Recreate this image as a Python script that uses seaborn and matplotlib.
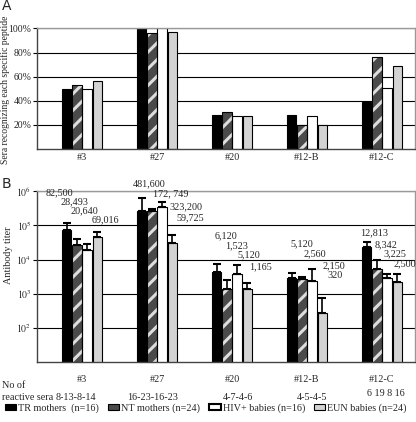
import numpy as np
import pandas as pd
import matplotlib
matplotlib.use("Agg")
import matplotlib.pyplot as plt
from matplotlib.patches import Patch, Rectangle
import seaborn as sns

# --- Data ---
peptides = ["#3", "#27", "#20", "#12-B", "#12-C"]
groups = ["TR mothers  (n=16)", "NT mothers (n=24)", "HIV+ babies (n=16)", "EUN babies (n=24)"]

# A: % of sera recognizing each peptide
pct_tr = [50, 100, 28, 28, 39]
pct_nt = [53, 96, 31, 20, 76]
pct_hiv = [50, 100, 27, 27, 51]
pct_eun = [56, 97, 27, 20, 69]

# B: antibody titer and top of error bar
titer_tr = [70800, 257000, 4360, 2950, 23000]
titer_nt = [27000, 265000, 1410, 2630, 5250]
titer_hiv = [19500, 355000, 3700, 2340, 2800]
titer_eun = [47000, 30000, 1380, 270, 2240]
errtop_tr = [120000, 617000, 7400, 4150, 32000]
errtop_nt = [41000, 295000, 2450, 3100, 9500]
errtop_hiv = [28000, 470000, 6900, 5350, 3900]
errtop_eun = [66000, 53000, 2000, 725, 3700]

titer_text = [
    ["82,500", "28,493", "20,640", "69,016"],
    ["481,600", "172, 749", "323,200", "59,725"],
    ["6,120", "1,523", "5,120", "1,165"],
    ["5,120", "2,560", "2,150", "320"],
    ["12,813", "8,342", "3,225", "2,500"],
]
reactive_sera = ["8-13-8-14", "16-23-16-23", "4-7-4-6", "4-5-4-5", "6 19 8 16"]

# label placement (offset from group centre, log10 height)
text_dx = [[-0.30, -0.10, 0.03, 0.31],
           [-0.10, 0.18, 0.38, 0.44],
           [-0.08, 0.06, 0.22, 0.38],
           [-0.07, 0.11, 0.36, 0.37],
           [-0.10, 0.05, 0.17, 0.30]]
text_logy = [[5.94, 5.70, 5.44, 5.17],
             [6.21, 5.91, 5.55, 5.23],
             [4.70, 4.41, 4.14, 3.79],
             [4.46, 4.16, 3.81, 3.54],
             [4.77, 4.43, 4.16, 3.89]]
sera_dx = [-0.08, -0.06, 0.08, 0.07, 0.05]

# --- Style ---
sns.set_style("white")
plt.rcParams["font.family"] = ["Liberation Serif", "DejaVu Serif"]
plt.rcParams["mathtext.fontset"] = "stix"
plt.rcParams["hatch.linewidth"] = 2.2
FS = 7.3
colors = ["black", "#4a4a4a", "white", "#d3d3d3"]
HATCH_FACE = "#4a4a4a"
HATCH_LINE = "#dedede"

fig = plt.figure(figsize=(4.16, 4.22), dpi=100)
ax_a = fig.add_axes([0.089, 0.647, 0.9086, 0.2855])
ax_b = fig.add_axes([0.089, 0.142, 0.9086, 0.405])


def style_nt(ax, cont):
    # hatched fill plus a black outline on top
    for p in cont:
        p.set_facecolor(HATCH_FACE)
        p.set_edgecolor(HATCH_LINE)
        p.set_hatch("//")
        p.set_linewidth(0)
        ax.add_patch(Rectangle(p.get_xy(), p.get_width(), p.get_height(),
                               fill=False, ec="black", lw=0.8, zorder=3))


def style_axes(ax):
    ax.set_xlim(-0.6, 4.44)
    ax.set_xlabel("")
    ax.set_ylabel("")
    ax.yaxis.grid(True, color="black", lw=0.8)
    ax.set_axisbelow(True)
    for s in ["top", "right"]:
        ax.spines[s].set_color("#999999")
    for s in ["left", "bottom"]:
        ax.spines[s].set_color("#444444")
    for s in ax.spines.values():
        s.set_linewidth(1.0)
    ax.tick_params(axis="y", which="major", left=True, length=3, width=0.8,
                   color="black", labelsize=7, pad=1)
    ax.tick_params(axis="y", which="minor", left=False)
    ax.tick_params(axis="x", length=0, labelsize=FS)


# --- Panel A ---
df_a = pd.DataFrame({"peptide": peptides, groups[0]: pct_tr, groups[1]: pct_nt,
                     groups[2]: pct_hiv, groups[3]: pct_eun})
df_a = df_a.melt(id_vars="peptide", var_name="group", value_name="pct")
sns.barplot(data=df_a, x="peptide", y="pct", hue="group", hue_order=groups,
            palette=colors, width=0.55, gap=0.05, edgecolor="black", linewidth=0.8,
            errorbar=None, legend=False, ax=ax_a)
style_nt(ax_a, ax_a.containers[1])
ax_a.set_ylim(0, 100)
ax_a.set_yticks([20, 40, 60, 80, 100])
ax_a.set_yticklabels(["20%", "40%", "60%", "80%", "100%"])
style_axes(ax_a)
ax_a.tick_params(axis="x", pad=3)

# --- Panel B ---
df_b = pd.DataFrame({"peptide": peptides, groups[0]: titer_tr, groups[1]: titer_nt,
                     groups[2]: titer_hiv, groups[3]: titer_eun})
df_b = df_b.melt(id_vars="peptide", var_name="group", value_name="titer")
sns.barplot(data=df_b, x="peptide", y="titer", hue="group", hue_order=groups,
            palette=colors, width=0.55, gap=0.05, edgecolor="black", linewidth=0.8,
            errorbar=None, legend=False, ax=ax_b)
style_nt(ax_b, ax_b.containers[1])

vals = [titer_tr, titer_nt, titer_hiv, titer_eun]
tops = [errtop_tr, errtop_nt, errtop_hiv, errtop_eun]
for cont, v, t in zip(ax_b.containers, vals, tops):
    xs = [p.get_x() + p.get_width() / 2 for p in cont]
    v = np.array(v, dtype=float)
    up = np.array(t, dtype=float) - v
    ax_b.errorbar(xs, v, yerr=[np.zeros_like(v), up], fmt="none", ecolor="black",
                  elinewidth=1.2, capsize=2.8, capthick=1.5, zorder=4)

ax_b.set_yscale("log")
ax_b.set_ylim(10, 1e6)
ax_b.set_yticks([1e2, 1e3, 1e4, 1e5, 1e6])
ax_b.set_yticklabels([r"$10^2$", r"$10^3$", r"$10^4$", r"$10^5$", r"$10^6$"])
ax_b.yaxis.set_minor_locator(matplotlib.ticker.NullLocator())
style_axes(ax_b)
ax_b.tick_params(axis="x", pad=9)

for i, labels in enumerate(titer_text):
    for j, lab in enumerate(labels):
        ax_b.text(i + text_dx[i][j], 10 ** text_logy[i][j], lab, ha="center",
                  va="center", fontsize=FS)

for i, s in enumerate(reactive_sera):
    ax_b.text(i + sera_dx[i], -0.205 if i < 4 else -0.185, s, ha="center", va="center",
              fontsize=FS, transform=ax_b.get_xaxis_transform())

fig.text(0.005, 1 - 385 / 422, "No of", fontsize=FS, va="center")
fig.text(0.005, 1 - 397.5 / 422, "reactive sera", fontsize=FS, va="center")

# axis titles and panel letters
fig.text(0.013, 1 - 90 / 422, "Sera recognizing each specific peptide", rotation=90,
         ha="center", va="center", fontsize=6.9)
fig.text(0.02, 1 - 255 / 422, "Antibody titer", rotation=90, ha="center",
         va="center", fontsize=FS)
fig.text(0.004, 1 - 6 / 422, "A", fontsize=10, family="DejaVu Sans", va="center")
fig.text(0.004, 1 - 184 / 422, "B", fontsize=10, family="DejaVu Sans", va="center")

# --- Legend ---
handles = [
    Patch(facecolor="black", edgecolor="black", lw=0.8),
    Patch(facecolor=HATCH_FACE, edgecolor="black", lw=0.8, hatch="/"),
    Patch(facecolor="white", edgecolor="black", lw=1.5),
    Patch(facecolor="#d3d3d3", edgecolor="black", lw=0.8),
]
fig.legend(handles, groups, loc="center", bbox_to_anchor=(0.495, 1 - 408 / 422),
           ncol=4, frameon=False, fontsize=FS, handlelength=1.1, handleheight=0.6,
           handletextpad=0.2, columnspacing=0.9, borderaxespad=0, borderpad=0)

fig.savefig("out.png", dpi=100)
